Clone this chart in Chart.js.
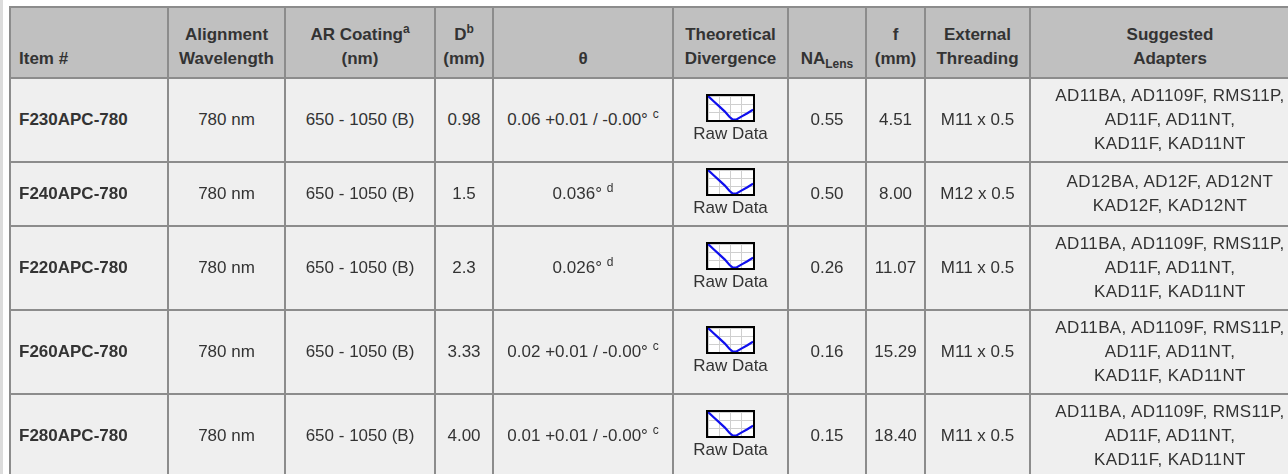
<!DOCTYPE html>
<html>
<head>
<meta charset="utf-8">
<script src="https://cdn.jsdelivr.net/npm/chart.js@4.4.1/dist/chart.umd.min.js"></script>
<style>
  html, body { margin: 0; padding: 0; background: #fff; overflow: hidden; }
  body { width: 1288px; height: 474px; position: relative; font-family: "Liberation Sans", Arial, sans-serif; }
  .band { position: absolute; left: 0; top: 0; width: 3px; height: 474px; background: #dcdcdc; }
  table { position: absolute; left: 9px; top: 6px; border-collapse: collapse; table-layout: fixed; width: 1300px; color: #333; font-size: 17px; }
  th, td { border: 2px solid #8c8c8c; line-height: 24px; }
  th { background: #c0c0c0; font-weight: bold; vertical-align: bottom; text-align: center; padding: 15px 4px 6px 4px; }
  th.left { text-align: left; padding-left: 8px; }
  td { background: #efefef; text-align: center; vertical-align: middle; padding: 5px 4px; white-space: nowrap; }
  td.item { text-align: left; font-weight: bold; padding-left: 8px; }
  td.adp { letter-spacing: 0.4px; }
  sup { font-size: 12px; line-height: 0; vertical-align: 7px; }
  sub { font-size: 12px; line-height: 0; vertical-align: -4px; }
  .icon { width: 45px; height: 24px; border: 2px solid #000; background: #fff; margin: 0 auto; }
  .icon canvas { display: block; }
</style>
</head>
<body>
<div class="band"></div>
<table id="tbl">
  <colgroup>
    <col style="width:158px"><col style="width:117px"><col style="width:150px"><col style="width:58px">
    <col style="width:180px"><col style="width:115px"><col style="width:78px"><col style="width:59px">
    <col style="width:105px"><col style="width:280px">
  </colgroup>
  <thead>
    <tr>
      <th class="left">Item #</th>
      <th>Alignment<br>Wavelength</th>
      <th>AR Coating<sup>a</sup><br>(nm)</th>
      <th>D<sup>b</sup><br>(mm)</th>
      <th>θ</th>
      <th>Theoretical<br>Divergence</th>
      <th>NA<sub>Lens</sub></th>
      <th>f<br>(mm)</th>
      <th>External<br>Threading</th>
      <th>Suggested<br>Adapters</th>
    </tr>
  </thead>
  <tbody id="body"></tbody>
</table>
<script>
// ---- table data ----
const items = ["F230APC-780", "F240APC-780", "F220APC-780", "F260APC-780", "F280APC-780"];
const wavelengths = ["780 nm", "780 nm", "780 nm", "780 nm", "780 nm"];
const coatings = ["650 - 1050 (B)", "650 - 1050 (B)", "650 - 1050 (B)", "650 - 1050 (B)", "650 - 1050 (B)"];
const diameters = ["0.98", "1.5", "2.3", "3.33", "4.00"];
const thetas = ["0.06 +0.01 / -0.00°", "0.036°", "0.026°", "0.02 +0.01 / -0.00°", "0.01 +0.01 / -0.00°"];
const thetaNotes = ["c", "d", "d", "c", "c"];
const naLens = ["0.55", "0.50", "0.26", "0.16", "0.15"];
const focal = ["4.51", "8.00", "11.07", "15.29", "18.40"];
const threading = ["M11 x 0.5", "M12 x 0.5", "M11 x 0.5", "M11 x 0.5", "M11 x 0.5"];
const adapters = [
  ["AD11BA, AD1109F, RMS11P,", "AD11F, AD11NT,", "KAD11F, KAD11NT"],
  ["AD12BA, AD12F, AD12NT", "KAD12F, KAD12NT"],
  ["AD11BA, AD1109F, RMS11P,", "AD11F, AD11NT,", "KAD11F, KAD11NT"],
  ["AD11BA, AD1109F, RMS11P,", "AD11F, AD11NT,", "KAD11F, KAD11NT"],
  ["AD11BA, AD1109F, RMS11P,", "AD11F, AD11NT,", "KAD11F, KAD11NT"]
];
// ---- thumbnail "Raw Data" divergence curve (read from icon) ----
const curveX = [0, 0.5, 1, 1.5, 1.9, 2.2, 2.5, 3, 3.5, 4];
const curveY = [3, 2.35, 1.7, 1.05, 0.4, 0.05, 0.05, 0.45, 0.85, 1.3];

const tbody = document.getElementById("body");
items.forEach((it, i) => {
  const tr = document.createElement("tr");
  tr.innerHTML =
    '<td class="item">' + it + '</td>' +
    '<td>' + wavelengths[i] + '</td>' +
    '<td>' + coatings[i] + '</td>' +
    '<td>' + diameters[i] + '</td>' +
    '<td>' + thetas[i] + ' <sup>' + thetaNotes[i] + '</sup></td>' +
    '<td><div class="icon"><canvas id="c' + i + '" width="45" height="24"></canvas></div>Raw Data</td>' +
    '<td>' + naLens[i] + '</td>' +
    '<td>' + focal[i] + '</td>' +
    '<td>' + threading[i] + '</td>' +
    '<td class="adp">' + adapters[i].join("<br>") + '</td>';
  tbody.appendChild(tr);
});

const pts = curveX.map((x, k) => ({ x: x, y: curveY[k] }));
items.forEach((it, i) => {
  new Chart(document.getElementById("c" + i), {
    type: "line",
    data: { datasets: [{ data: pts, borderColor: "#1010ee", borderWidth: 2.2, pointRadius: 0, tension: 0, fill: false }] },
    options: {
      responsive: false, animation: false, events: [],
      layout: { padding: 0 },
      plugins: { legend: { display: false }, tooltip: { enabled: false } },
      scales: {
        x: { type: "linear", min: 0, max: 4, ticks: { display: false, stepSize: 1 }, grid: { color: "#cfcfcf", drawTicks: false, lineWidth: 1 }, border: { display: false } },
        y: { type: "linear", min: 0, max: 3, ticks: { display: false, stepSize: 1 }, grid: { color: "#cfcfcf", drawTicks: false, lineWidth: 1 }, border: { display: false } }
      }
    }
  });
});
</script>
</body>
</html>
